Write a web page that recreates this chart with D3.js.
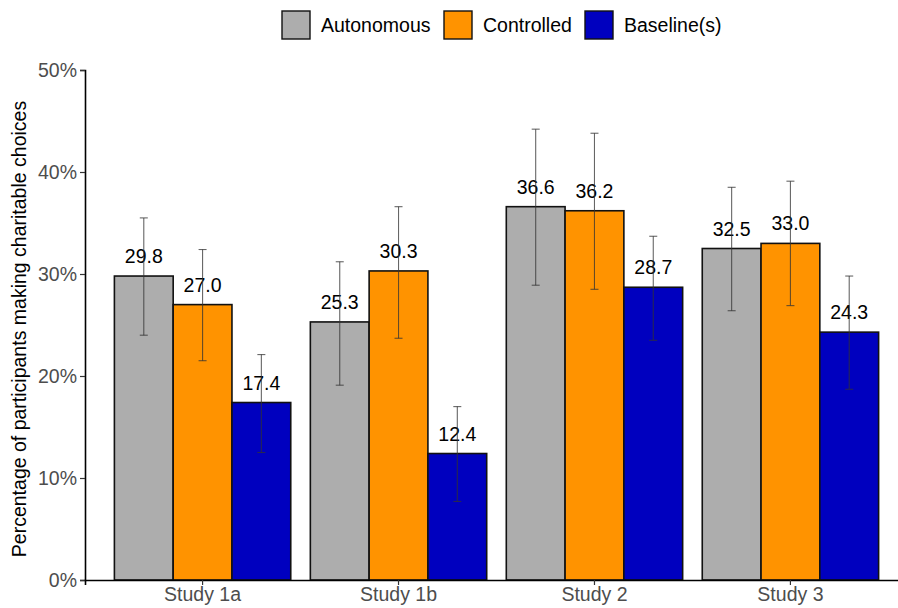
<!DOCTYPE html>
<html>
<head>
<meta charset="utf-8">
<script src="https://cdn.jsdelivr.net/npm/d3@7"></script>
<style>
  body { margin: 0; background: #fff; }
  text { font-family: "Liberation Sans", Arial, sans-serif; }
</style>
</head>
<body>
<div id="chart"></div>
<script>
// data
const studies = ["Study 1a", "Study 1b", "Study 2", "Study 3"];
const conditions = ["Autonomous", "Controlled", "Baseline(s)"];
const colors = ["#ADADAD", "#FF9300", "#0000BF"];
const autonomous = [29.8, 25.3, 36.6, 32.5];
const controlled = [27.0, 30.3, 36.2, 33.0];
const baseline = [17.4, 12.4, 28.7, 24.3];
const autonomousCI = [[24.0, 35.5], [19.1, 31.2], [28.9, 44.2], [26.4, 38.5]];
const controlledCI = [[21.5, 32.4], [23.7, 36.6], [28.5, 43.8], [26.9, 39.1]];
const baselineCI = [[12.5, 22.1], [7.7, 17.0], [23.5, 33.7], [18.7, 29.8]];
const yTicks = [0, 10, 20, 30, 40, 50];

const series = [autonomous, controlled, baseline];
const cis = [autonomousCI, controlledCI, baselineCI];

const width = 898, height = 608;
const margin = {top: 70, right: -10, bottom: 28, left: 85};
const fs = "19.5px";

const svg = d3.select("#chart").append("svg")
    .attr("width", width)
    .attr("height", height);

const x = d3.scaleBand()
    .domain(studies)
    .range([margin.left, width - margin.right])
    .paddingInner(0.1)
    .paddingOuter(0.15);

const xSub = d3.scaleBand()
    .domain(conditions)
    .range([0, x.bandwidth()]);

const y = d3.scaleLinear()
    .domain([0, 50])
    .range([height - margin.bottom, margin.top]);

const rows = [];
studies.forEach((s, i) => {
  conditions.forEach((c, j) => {
    rows.push({study: s, cond: c, j: j, value: series[j][i], lo: cis[j][i][0], hi: cis[j][i][1]});
  });
});

const g = svg.append("g");

// bars
g.selectAll("rect.bar")
  .data(rows).enter()
  .append("rect")
    .attr("class", "bar")
    .attr("x", d => x(d.study) + xSub(d.cond))
    .attr("y", d => y(d.value))
    .attr("width", xSub.bandwidth())
    .attr("height", d => y(0) - y(d.value))
    .style("fill", d => colors[d.j])
    .style("stroke", "#111")
    .style("stroke-width", 1.6);

// value labels
g.selectAll("text.val")
  .data(rows).enter()
  .append("text")
    .attr("class", "val")
    .attr("x", d => x(d.study) + xSub(d.cond) + xSub.bandwidth() / 2)
    .attr("y", d => y(d.value) - 13)
    .attr("text-anchor", "middle")
    .style("font-size", fs)
    .style("fill", "#000")
    .text(d => d.value.toFixed(1));

// error bars
const eb = g.selectAll("g.err")
  .data(rows).enter()
  .append("g")
    .attr("class", "err")
    .attr("transform", d => "translate(" + (x(d.study) + xSub(d.cond) + xSub.bandwidth() / 2) + ",0)")
    .style("stroke", "#333")
    .style("stroke-opacity", 0.75)
    .style("stroke-width", 1.1);

eb.append("line")
  .attr("x1", 0).attr("x2", 0)
  .attr("y1", d => y(d.lo)).attr("y2", d => y(d.hi));
eb.append("line")
  .attr("x1", -4).attr("x2", 4)
  .attr("y1", d => y(d.lo)).attr("y2", d => y(d.lo));
eb.append("line")
  .attr("x1", -4).attr("x2", 4)
  .attr("y1", d => y(d.hi)).attr("y2", d => y(d.hi));

// axes
const yAxis = svg.append("g")
    .attr("transform", "translate(" + margin.left + ",0)")
    .call(d3.axisLeft(y).tickValues(yTicks).tickFormat(d => d + "%").tickSizeOuter(0).tickSize(5));
yAxis.select(".domain").style("stroke", "#000").style("stroke-width", 1.6);
yAxis.selectAll(".tick line").style("stroke", "#333").style("stroke-width", 1.2);
yAxis.selectAll(".tick text")
    .style("font-size", fs)
    .style("fill", "#4d4d4d")
    .style("font-family", "'Liberation Sans', Arial, sans-serif")
    .attr("x", -8);

const xAxis = svg.append("g")
    .attr("transform", "translate(0," + y(0) + ")")
    .call(d3.axisBottom(x).tickSizeOuter(0).tickSize(5));
xAxis.select(".domain").style("stroke", "#000").style("stroke-width", 1.6);
xAxis.selectAll(".tick line").style("stroke", "#333").style("stroke-width", 1.2);
xAxis.selectAll(".tick text")
    .style("font-size", fs)
    .style("fill", "#4d4d4d")
    .style("font-family", "'Liberation Sans', Arial, sans-serif")
    .attr("y", 7);

// y title
svg.append("text")
    .attr("transform", "translate(26," + ((y(0) + y(50)) / 2 + 4) + ") rotate(-90)")
    .attr("text-anchor", "middle")
    .style("font-size", fs)
    .style("fill", "#000")
    .text("Percentage of participants making charitable choices");

// legend
const legendX = [282, 444, 585];
const leg = svg.append("g").selectAll("g")
  .data(conditions).enter()
  .append("g")
    .attr("transform", (d, i) => "translate(" + legendX[i] + ",11)");
leg.append("rect")
    .attr("width", 28).attr("height", 28)
    .style("fill", (d, i) => colors[i])
    .style("stroke", "#111")
    .style("stroke-width", 1.4);
leg.append("text")
    .attr("x", 39).attr("y", 21)
    .style("font-size", fs)
    .style("fill", "#000")
    .text(d => d);
</script>
</body>
</html>
